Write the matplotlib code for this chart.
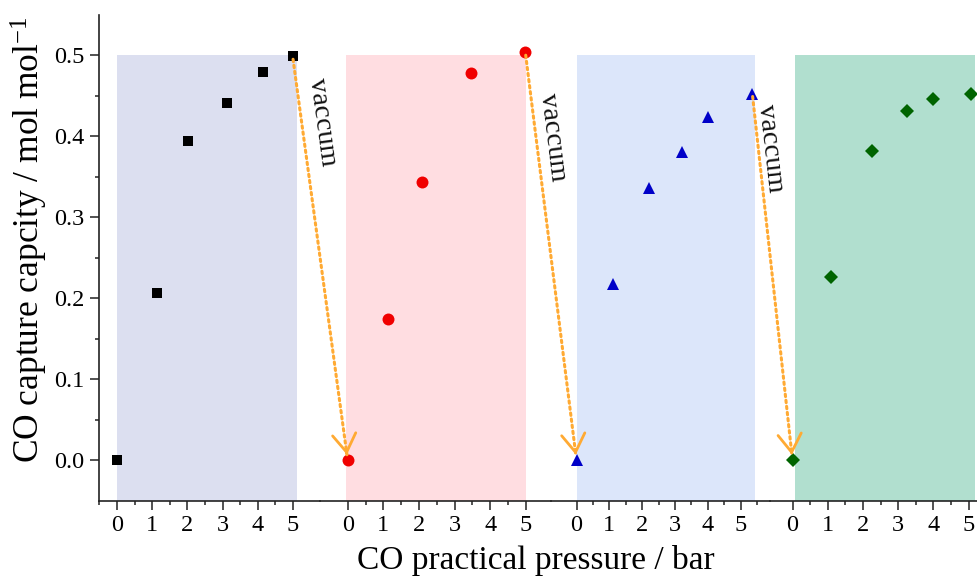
import numpy as np
import matplotlib

matplotlib.use("Agg")
import matplotlib.pyplot as plt
from matplotlib.patches import FancyArrowPatch
from matplotlib.transforms import IdentityTransform
from matplotlib.ticker import FixedLocator

plt.rcParams["font.family"] = ["Liberation Serif", "DejaVu Serif"]
plt.rcParams["mathtext.fontset"] = "custom"
plt.rcParams["mathtext.rm"] = "Liberation Serif"
plt.rcParams["mathtext.it"] = "Liberation Serif:italic"

# ---- data: four adsorption cycles (pressure / bar, capacity / mol mol-1)
p1 = [0.0, 1.13, 2.01, 3.12, 4.16, 4.99]
q1 = [0.000, 0.206, 0.394, 0.441, 0.480, 0.499]
p2 = [0.0, 1.13, 2.08, 3.46, 4.99]
q2 = [0.000, 0.175, 0.344, 0.478, 0.504]
p3 = [0.0, 1.11, 2.21, 3.22, 4.01, 5.36]
q3 = [0.000, 0.218, 0.336, 0.381, 0.424, 0.453]
p4 = [0.0, 1.09, 2.26, 3.24, 4.00, 5.06]
q4 = [0.000, 0.226, 0.382, 0.431, 0.446, 0.452]

# shaded band of each cycle (pressure range)
band_lo = [0.0, -0.06, 0.0, 0.07]
band_hi = [5.1, 5.0, 5.44, 5.18]

major_ticks = [0, 1, 2, 3, 4, 5]
minor_ticks = [
    [-0.5, 0.5, 1.5, 2.5, 3.5, 4.5],
    [0.5, 1.5, 2.5, 3.5, 4.5],
    [0.5, 1.5, 2.5, 3.5, 4.5, 5.5],
    [0.5, 1.5, 2.5, 3.5, 4.5],
]

# ---- style / layout
W, H = 977, 579
BOTTOM_PX, TOP_PX = 500.7, 15.0
# (left px, right px, px of pressure 0, px per bar) for each panel
LAYOUT = [
    (99, 320, 117.0, 35.2),
    (320, 551, 347.7, 35.6),
    (551, 770, 576.5, 32.8),
    (770, 977, 792.5, 35.2),
]
BAND_COLORS = ["#DCDFF0", "#FFDDE1", "#DCE6FA", "#B1DFCF"]
MARKERS = [("s", "#000000", 7.4), ("o", "#F00000", 8.6), ("^", "#0000C8", 9.2), ("D", "#006400", 7.4)]
ARROW_COLOR = "#FFAA33"
SPINE_COLOR = "#222222"

xs = [p1, p2, p3, p4]
ys = [q1, q2, q3, q4]

fig = plt.figure(figsize=(W / 100, H / 100), dpi=100)
bottom = 1 - BOTTOM_PX / H
height = (BOTTOM_PX - TOP_PX) / H

axes = []
for i, (left_px, right_px, zero_px, unit_px) in enumerate(LAYOUT):
    ax = fig.add_axes([left_px / W, bottom, (right_px - left_px) / W, height])
    ax.set_facecolor("none")
    ax.set_xlim((left_px - zero_px) / unit_px, (right_px - zero_px) / unit_px)
    ax.set_ylim(-0.05, 0.55)

    ax.fill_between([band_lo[i], band_hi[i]], -0.05, 0.5, color=BAND_COLORS[i], lw=0, zorder=0)
    marker, color, size = MARKERS[i]
    ax.plot(xs[i], ys[i], ls="none", marker=marker, color=color, markersize=size,
            markeredgewidth=0, zorder=3, clip_on=False)

    for side in ["top", "right", "left"]:
        ax.spines[side].set_visible(False)
    ax.spines["bottom"].set_color(SPINE_COLOR)
    ax.spines["bottom"].set_linewidth(1.2)

    ax.xaxis.set_major_locator(FixedLocator(major_ticks))
    ax.xaxis.set_minor_locator(FixedLocator(minor_ticks[i]))
    ax.tick_params(axis="x", which="major", length=6.5, width=1.1, color=SPINE_COLOR,
                   labelsize=17.5, pad=4)
    ax.tick_params(axis="x", which="minor", length=3, width=1.1, color=SPINE_COLOR)
    ax.set_xticklabels([str(t) for t in major_ticks])

    if i == 0:
        ax.spines["left"].set_visible(True)
        ax.spines["left"].set_color(SPINE_COLOR)
        ax.spines["left"].set_linewidth(1.2)
        ax.yaxis.set_major_locator(FixedLocator([0.0, 0.1, 0.2, 0.3, 0.4, 0.5]))
        ax.yaxis.set_minor_locator(FixedLocator([0.05, 0.15, 0.25, 0.35, 0.45]))
        ax.yaxis.set_major_formatter(plt.FuncFormatter(lambda v, _: f"{v:.1f}"))
        ax.tick_params(axis="y", which="major", length=6.5, width=1.1, color=SPINE_COLOR,
                       labelsize=17.5, pad=4)
        ax.tick_params(axis="y", which="minor", length=3, width=1.1, color=SPINE_COLOR)
    else:
        ax.tick_params(axis="y", which="both", left=False, labelleft=False)
    axes.append(ax)

# ---- "vaccum" arrows from the end of one cycle to the start of the next
for k in range(3):
    a = axes[k].transData.transform((xs[k][-1], ys[k][-1]))
    b = axes[k + 1].transData.transform((xs[k + 1][0], ys[k + 1][0]))
    d = (b - a) / np.hypot(*(b - a))
    tip = b - d * 5.5
    line = FancyArrowPatch(tuple(a + d * 3), tuple(tip), transform=IdentityTransform(),
                           arrowstyle="-", color=ARROW_COLOR, lw=2.2,
                           linestyle=(0, (0.8, 1.2)), shrinkA=0, shrinkB=0, zorder=5)
    head = FancyArrowPatch(tuple(tip - d * 2), tuple(tip), transform=IdentityTransform(),
                           arrowstyle="->,head_length=0.65,head_width=0.42", mutation_scale=20,
                           color=ARROW_COLOR, lw=2.0, shrinkA=0, shrinkB=0, zorder=5)
    fig.add_artist(line)
    fig.add_artist(head)

for (cx, cy, rot) in [(322, 122, -82.2), (553, 137, -83.0), (770, 148, -83.5)]:
    fig.text(cx / W, 1 - cy / H, "vaccum", fontsize=20.5, rotation=rot,
             rotation_mode="anchor", ha="center", va="center", color="#111111")

fig.text(29 / W, 1 - 240 / H, "CO capture capcity / mol mol$^{\\mathregular{-1}}$",
         rotation=90, fontsize=25.5, ha="center", va="center")
fig.text(536 / W, 1 - 560 / H, "CO practical pressure / bar", fontsize=24,
         ha="center", va="center")

fig.savefig("out.png", dpi=100)
